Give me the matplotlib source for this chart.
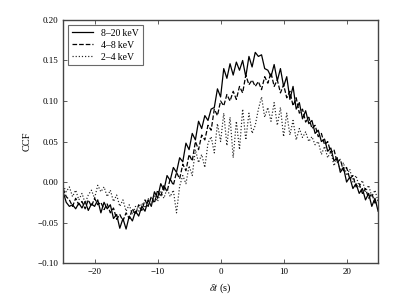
import numpy as np
import matplotlib
matplotlib.use("Agg")
import matplotlib.pyplot as plt

# time lag grid (s)
lag = np.arange(-25, 25.01, 0.5)

ccf_8_20 = [
    -0.012, -0.025, -0.030, -0.028, -0.033, -0.026, -0.032, -0.024, -0.035, -0.027,
    -0.030, -0.022, -0.038, -0.025, -0.033, -0.028, -0.045, -0.040, -0.057, -0.045,
    -0.058, -0.042, -0.048, -0.036, -0.042, -0.030, -0.036, -0.022, -0.030, -0.012,
    -0.020, -0.002, -0.010, 0.008, 0.002, 0.018, 0.012, 0.030, 0.025, 0.048,
    0.040, 0.060, 0.052, 0.075, 0.066, 0.082, 0.076, 0.090, 0.092, 0.115,
    0.105, 0.140, 0.128, 0.146, 0.132, 0.148, 0.138, 0.150, 0.130, 0.155,
    0.142, 0.160, 0.155, 0.157, 0.140, 0.138, 0.130, 0.145, 0.125, 0.140,
    0.118, 0.130, 0.102, 0.118, 0.090, 0.098, 0.078, 0.088, 0.072, 0.076,
    0.060, 0.064, 0.050, 0.053, 0.038, 0.042, 0.026, 0.030, 0.012, 0.018,
    0.000, 0.006, -0.008, -0.002, -0.014, -0.008, -0.022, -0.014, -0.030, -0.020,
    -0.036,
]

ccf_4_8 = [
    -0.008, -0.018, -0.022, -0.030, -0.020, -0.028, -0.024, -0.033, -0.022, -0.030,
    -0.020, -0.028, -0.025, -0.034, -0.027, -0.038, -0.032, -0.046, -0.040, -0.048,
    -0.038, -0.045, -0.033, -0.040, -0.028, -0.035, -0.022, -0.030, -0.018, -0.026,
    -0.010, -0.018, -0.004, -0.012, 0.004, -0.004, 0.012, 0.004, 0.022, 0.014,
    0.034, 0.026, 0.050, 0.040, 0.058, 0.052, 0.070, 0.064, 0.090, 0.082,
    0.100, 0.094, 0.108, 0.100, 0.112, 0.102, 0.118, 0.110, 0.132, 0.120,
    0.126, 0.118, 0.124, 0.114, 0.130, 0.122, 0.135, 0.118, 0.126, 0.110,
    0.120, 0.104, 0.112, 0.094, 0.104, 0.085, 0.090, 0.074, 0.080, 0.066,
    0.070, 0.056, 0.060, 0.046, 0.050, 0.036, 0.040, 0.024, 0.028, 0.014,
    0.018, 0.004, 0.008, -0.006, -0.002, -0.014, -0.008, -0.020, -0.014, -0.026,
    -0.022,
]

ccf_2_4 = [
    -0.004, -0.012, -0.006, -0.018, -0.010, -0.022, -0.014, -0.026, -0.016, -0.010,
    -0.020, -0.004, -0.012, -0.006, -0.018, -0.010, -0.024, -0.016, -0.030, -0.022,
    -0.036, -0.028, -0.040, -0.030, -0.036, -0.026, -0.032, -0.020, -0.028, -0.016,
    -0.024, -0.012, -0.020, -0.008, -0.018, -0.010, -0.038, -0.005, 0.008, -0.002,
    0.020, 0.008, 0.040, 0.024, 0.034, 0.018, 0.048, 0.056, 0.036, 0.072,
    0.050, 0.085, 0.045, 0.080, 0.030, 0.075, 0.040, 0.090, 0.052, 0.085,
    0.060, 0.070, 0.090, 0.105, 0.080, 0.092, 0.075, 0.098, 0.070, 0.092,
    0.056, 0.085, 0.058, 0.076, 0.052, 0.066, 0.055, 0.062, 0.050, 0.056,
    0.046, 0.050, 0.034, 0.044, 0.030, 0.038, 0.020, 0.030, 0.014, 0.024,
    0.008, 0.016, 0.000, 0.008, -0.006, 0.002, -0.012, -0.004, -0.018, -0.010,
    -0.024,
]

labels = ["8\u201320\u2009keV", "4\u20138\u2009keV", "2\u20134\u2009keV"]

plt.rcParams["font.family"] = ["Liberation Serif", "DejaVu Serif"]
plt.rcParams["mathtext.fontset"] = "stix"

fig = plt.figure(figsize=(4.07, 3.07), dpi=100)
ax = fig.add_axes([0.155, 0.143, 0.774, 0.792])

ax.plot(lag, ccf_8_20, linestyle="-", color="black", linewidth=0.9, label=labels[0])
ax.plot(lag, ccf_4_8, linestyle="--", color="black", linewidth=0.9, label=labels[1])
ax.plot(lag, ccf_2_4, linestyle=":", color="#222222", linewidth=0.85, label=labels[2])

ax.set_xlim(-25, 25)
ax.set_ylim(-0.10, 0.20)
ax.set_xticks([-20, -10, 0, 10, 20])
ax.set_yticks([-0.10, -0.05, 0.00, 0.05, 0.10, 0.15, 0.20])
ax.set_yticklabels(["\u22120.10", "\u22120.05", "0.00", "0.05", "0.10", "0.15", "0.20"])
ax.set_xticklabels(["\u221220", "\u221210", "0", "10", "20"])
ax.tick_params(axis="both", direction="in", top=True, right=True,
               labelsize=6.5, length=3, width=0.6, colors="#444444", labelcolor="black")
for s in ax.spines.values():
    s.set_linewidth(1.0)
    s.set_color("#444444")

ax.set_xlabel(r"$\delta t$ (s)", fontsize=7.5)
ax.set_ylabel("CCF", fontsize=7.5)

leg = ax.legend(loc="upper left", fontsize=7, fancybox=False, edgecolor="#444444",
                handlelength=2.2, borderaxespad=0.5, labelspacing=0.3)
leg.get_frame().set_linewidth(0.8)

fig.savefig("out.png", dpi=100)
